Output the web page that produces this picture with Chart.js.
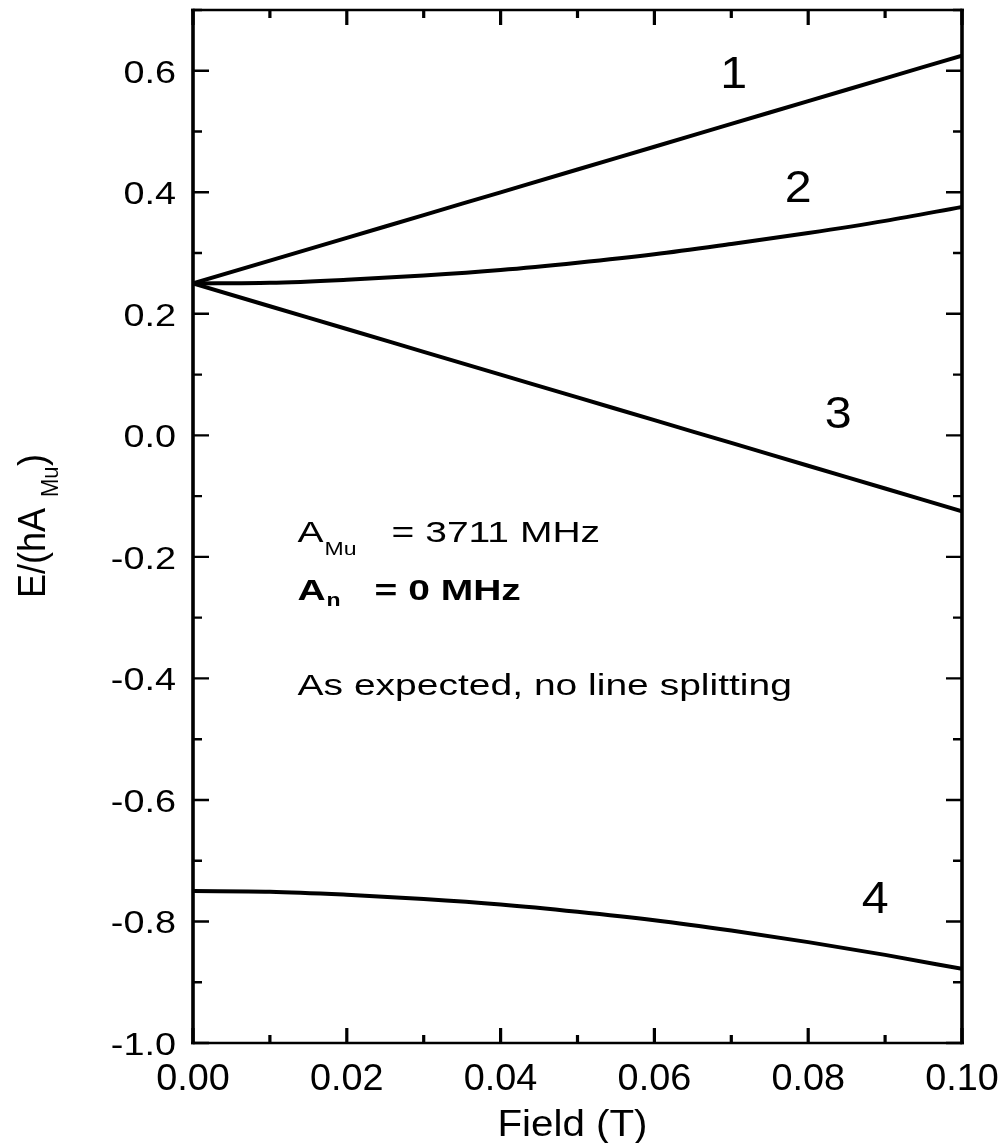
<!DOCTYPE html>
<html>
<head>
<meta charset="utf-8" />
<title>Muonium energy levels</title>
<script src="https://cdn.jsdelivr.net/npm/chart.js@4/dist/chart.umd.min.js"></script>
<style>
  html, body { margin: 0; padding: 0; background: #fff; }
  canvas { display: block; }
</style>
</head>
<body>
<canvas id="levels" width="1006" height="1143"></canvas>
<script>
// field values (T) and the four energy levels, E/(hA_Mu)
const fieldT = [0, 0.01, 0.02, 0.03, 0.04, 0.05, 0.06, 0.07, 0.08, 0.09, 0.10];
const level1 = [0.250, 0.2875, 0.325, 0.3625, 0.400, 0.4375, 0.475, 0.5125, 0.550, 0.5875, 0.625];
const level2 = [0.250, 0.251, 0.256, 0.263, 0.272, 0.284, 0.298, 0.315, 0.333, 0.353, 0.376];
const level3 = [0.250, 0.2125, 0.175, 0.1375, 0.100, 0.0625, 0.025, -0.0125, -0.050, -0.0875, -0.125];
const level4 = [-0.750, -0.751, -0.756, -0.763, -0.772, -0.784, -0.798, -0.815, -0.834, -0.855, -0.878];

// axis ticks
const xMajorTicks = [0, 0.02, 0.04, 0.06, 0.08, 0.10];
const xMinorTicks = [0.01, 0.03, 0.05, 0.07, 0.09];
const yMajorTicks = [-1.0, -0.8, -0.6, -0.4, -0.2, 0.0, 0.2, 0.4, 0.6];
const yMinorTicks = [-0.9, -0.7, -0.5, -0.3, -0.1, 0.1, 0.3, 0.5, 0.7];

// curve numbers and where they sit (data units, text baseline)
const curveNames = ['1', '2', '3', '4'];
const curveNameX = [0.0703, 0.0787, 0.0839, 0.0887];
const curveNameY = [0.572, 0.384, 0.012, -0.786];

const FONT = '"Liberation Sans", Arial, Helvetica, sans-serif';

// text with a horizontal stretch factor
function drawText(c, text, x, y, size, sx, opts = {}) {
  c.save();
  c.translate(x, y);
  if (opts.rotate) c.rotate(opts.rotate);
  c.scale(sx, opts.sy || 1);
  c.font = (opts.bold ? 'bold ' : '') + size + 'px ' + FONT;
  c.textAlign = opts.align || 'left';
  c.textBaseline = 'alphabetic';
  c.fillStyle = '#000';
  c.fillText(text, 0, 0);
  c.restore();
}

const framePlugin = {
  id: 'frame',
  afterDraw(chart) {
    const c = chart.ctx;
    const a = chart.chartArea;
    const xs = chart.scales.x;
    const ys = chart.scales.y;
    c.save();
    c.strokeStyle = '#000';
    c.lineCap = 'butt';

    // box
    c.lineWidth = 2.7;
    c.beginPath();
    c.moveTo(a.left - 2, a.top); c.lineTo(a.right + 2, a.top);
    c.moveTo(a.left - 2, a.bottom); c.lineTo(a.right + 2, a.bottom);
    c.stroke();
    c.lineWidth = 3.6;
    c.beginPath();
    c.moveTo(a.left, a.top - 1.3); c.lineTo(a.left, a.bottom + 1.3);
    c.moveTo(a.right, a.top - 1.3); c.lineTo(a.right, a.bottom + 1.3);
    c.stroke();

    // inward ticks on all four sides
    const yTick = (v, len) => {
      const py = ys.getPixelForValue(v);
      c.beginPath();
      c.moveTo(a.left, py); c.lineTo(a.left + len, py);
      c.moveTo(a.right, py); c.lineTo(a.right - len, py);
      c.stroke();
    };
    const xTick = (v, len) => {
      const px = xs.getPixelForValue(v);
      c.beginPath();
      c.moveTo(px, a.bottom); c.lineTo(px, a.bottom - len);
      c.moveTo(px, a.top); c.lineTo(px, a.top + len);
      c.stroke();
    };
    c.lineWidth = 2.4;
    ys.ticks.forEach(t => yTick(t.value, 16));
    yMinorTicks.forEach(v => yTick(v, 9));
    c.lineWidth = 3.2;
    xs.ticks.forEach(t => xTick(t.value, 15));
    xMinorTicks.forEach(v => xTick(v, 8));
    c.restore();

    // tick labels
    ys.ticks.forEach(t => {
      const py = ys.getPixelForValue(t.value);
      drawText(c, t.value.toFixed(1), a.left - 17, py + 12, 31, 1.22, { align: 'right' });
    });
    xs.ticks.forEach(t => {
      const px = xs.getPixelForValue(t.value);
      drawText(c, t.value.toFixed(2), px, a.bottom + 47, 36, 1.05, { align: 'center' });
    });

    // axis titles
    drawText(c, 'Field (T)', (a.left + a.right) / 2 - 5, a.bottom + 93, 36, 1.12, { align: 'center' });
    const ty = 598;
    drawText(c, 'E/(hA', 45, ty, 36, 1, { rotate: -Math.PI / 2, sy: 1.1 });
    drawText(c, 'Mu', 58, ty - 101, 22, 1, { rotate: -Math.PI / 2, sy: 1.1 });
    drawText(c, ')', 45, ty - 132, 36, 1, { rotate: -Math.PI / 2, sy: 1.1 });

    // curve numbers
    curveNames.forEach((name, i) => {
      drawText(c, name, xs.getPixelForValue(curveNameX[i]), ys.getPixelForValue(curveNameY[i]), 44, 1.1, { align: 'center' });
    });

    // parameter notes
    const nx = xs.getPixelForValue(0.0136);
    const ny = ys.getPixelForValue(-0.1754);
    drawText(c, 'A', nx, ny, 30, 1.3);
    drawText(c, 'Mu', nx + 27, ny + 13, 18, 1.28);
    drawText(c, '= 3711 MHz', nx + 94, ny, 30, 1.3);
    drawText(c, 'A', nx, ny + 58, 30, 1.3, { bold: true });
    drawText(c, 'n', nx + 29, ny + 64, 18, 1.28, { bold: true });
    drawText(c, '= 0 MHz', nx + 77, ny + 58, 30, 1.3, { bold: true });
    drawText(c, 'As expected, no line splitting', nx, ny + 153, 30, 1.3);
  }
};

const toPoints = ys => fieldT.map((x, i) => ({ x: x, y: ys[i] }));
const lineStyle = {
  borderColor: '#000',
  borderWidth: 4,
  pointRadius: 0,
  fill: false,
  cubicInterpolationMode: 'monotone'
};

const ctx = document.getElementById('levels').getContext('2d');
const chart = new Chart(ctx, {
  type: 'line',
  data: {
    datasets: [
      Object.assign({ label: '1', data: toPoints(level1) }, lineStyle),
      Object.assign({ label: '2', data: toPoints(level2) }, lineStyle),
      Object.assign({ label: '3', data: toPoints(level3) }, lineStyle),
      Object.assign({ label: '4', data: toPoints(level4) }, lineStyle)
    ]
  },
  options: {
    responsive: false,
    animation: false,
    layout: { padding: { top: 10, right: 44, left: 0, bottom: 0 } },
    plugins: {
      legend: { display: false },
      tooltip: { enabled: false }
    },
    scales: {
      x: {
        type: 'linear',
        min: 0,
        max: 0.1,
        grid: { display: false, drawTicks: false },
        border: { display: false },
        ticks: { display: false },
        afterBuildTicks: s => { s.ticks = xMajorTicks.map(v => ({ value: v })); },
        afterFit: s => { s.height = 100; }
      },
      y: {
        type: 'linear',
        min: -1.0,
        max: 0.7,
        grid: { display: false, drawTicks: false },
        border: { display: false },
        ticks: { display: false },
        afterBuildTicks: s => { s.ticks = yMajorTicks.map(v => ({ value: v })); },
        afterFit: s => { s.width = 193; }
      }
    }
  },
  plugins: [framePlugin]
});
</script>
</body>
</html>
